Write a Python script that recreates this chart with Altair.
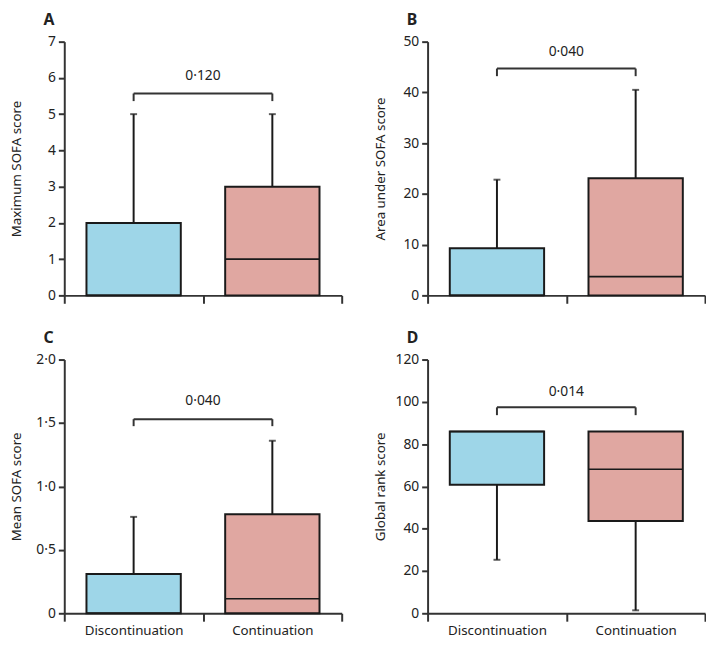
import altair as alt
import pandas as pd

groups = ["Discontinuation", "Continuation"]
colors = ["#9ed6e8", "#e0a7a1"]

panel_letters = ["A", "B", "C", "D"]
y_titles = ["Maximum SOFA score", "Area under SOFA score", "Mean SOFA score", "Global rank score"]
y_max = [7, 50, 2.0, 120]
y_ticks = [[0, 1, 2, 3, 4, 5, 6, 7],
           [0, 10, 20, 30, 40, 50],
           [0, 0.5, 1.0, 1.5, 2.0],
           [0, 20, 40, 60, 80, 100, 120]]

# box statistics per panel, ordered [Discontinuation, Continuation]
w_min = [[0, 0], [0, 0], [0, 0], [25.3, 1.4]]
q1 = [[0, 0], [0, 0], [0, 0], [60.8, 43.6]]
median = [[0, 1], [0, 3.7], [0, 0.115], [86, 68.1]]
q3 = [[2, 3], [9.3, 23.1], [0.31, 0.78], [86, 86]]
w_max = [[5, 5], [22.8, 40.5], [0.76, 1.36], [86, 86]]

p_values = ["0·120", "0·040", "0·040", "0·014"]
bracket_y = [5.57, 44.7, 1.53, 97.4]
bracket_drop = [5.36, 43.2, 1.475, 93.7]
p_text_y = [6.05, 48, 1.67, 104.7]

W, H = 281, 257
AX = "#333333"
INK = "#1a1a1a"
FONT = "Noto Sans"


def make_panel(i, show_labels):
    df = pd.DataFrame({
        "group": groups,
        "min": w_min[i], "q1": q1[i], "median": median[i],
        "q3": q3[i], "max": w_max[i],
        "by": [bracket_y[i]] * 2, "bd": [bracket_drop[i]] * 2,
    })
    bdf = pd.DataFrame({"g1": [groups[0]], "g2": [groups[1]],
                        "by": [bracket_y[i]], "ty": [p_text_y[i]],
                        "p": [p_values[i]]})

    xscale = alt.Scale(domain=groups, paddingInner=0, paddingOuter=0)
    xaxis = alt.Axis(title=None, tickBand="extent", labels=show_labels,
                     labelFontSize=13.5, labelPadding=3, tickSize=8,
                     domainColor=AX, tickColor=AX, domainWidth=2, tickWidth=2,
                     labelColor="#222222", labelAngle=0, labelFont=FONT)
    yscale = alt.Scale(domain=[0, y_max[i]], nice=False, zero=True)
    yaxis_kw = dict(title=y_titles[i], values=y_ticks[i], grid=False, tickSize=6,
                    domainColor=AX, tickColor=AX, domainWidth=2, tickWidth=2,
                    labelFontSize=14, labelColor="#222222", labelFont=FONT,
                    titleFontSize=13.5, titleFontWeight="normal", titleColor="#222222",
                    titleFont=FONT, titleX=-41, labelPadding=3)
    if i == 2:
        yaxis_kw["labelExpr"] = "datum.value == 0 ? '0' : replace(format(datum.value, '.1f'), '.', '·')"
    yaxis = alt.Axis(**yaxis_kw)

    x = alt.X("group:N", scale=xscale, axis=xaxis)

    def Y(field):
        return alt.Y(field, type="quantitative", scale=yscale, axis=yaxis)

    base = alt.Chart(df)
    whisk_hi = base.mark_rule(color=INK, strokeWidth=2).encode(x=x, y=Y("q3"), y2="max")
    whisk_lo = base.mark_rule(color=INK, strokeWidth=2).encode(x=x, y=Y("q1"), y2="min")
    box = base.mark_bar(width=alt.RelativeBandSize(0.68), stroke=INK, strokeWidth=2).encode(
        x=x, y=Y("q1"), y2="q3",
        fill=alt.Fill("group:N", scale=alt.Scale(domain=groups, range=colors), legend=None))
    med = base.mark_bar(width=alt.RelativeBandSize(0.68), fillOpacity=0, stroke=INK,
                        strokeWidth=1.6).encode(x=x, y=Y("median"), y2="median")
    cap_hi = base.transform_filter("datum.max > datum.q3").mark_tick(
        orient="horizontal", size=7, thickness=2, color=INK).encode(x=x, y=Y("max"))
    cap_lo = base.transform_filter("datum.min < datum.q1").mark_tick(
        orient="horizontal", size=7, thickness=2, color=INK).encode(x=x, y=Y("min"))
    drops = base.mark_rule(color=AX, strokeWidth=2).encode(x=x, y=Y("by"), y2="bd")
    bracket = alt.Chart(bdf).mark_rule(color=AX, strokeWidth=2).encode(
        x=alt.X("g1:N", scale=xscale, axis=xaxis, bandPosition=0.5),
        x2=alt.X2("g2", bandPosition=0.5),
        y=Y("by"))
    ptext = alt.Chart(bdf).mark_text(fontSize=14, font=FONT, color="#222222",
                                     baseline="middle").encode(
        x=alt.X("g2:N", scale=xscale, axis=xaxis, bandPosition=0),
        y=Y("ty"), text="p:N")

    return alt.layer(whisk_hi, whisk_lo, box, med, cap_hi, cap_lo, drops, bracket, ptext).properties(
        width=W, height=H,
        title=alt.TitleParams(text=panel_letters[i], anchor="start", frame="group",
                              dx=-21, fontSize=16, fontWeight="bold", color="#222222",
                              font=FONT, offset=7))


row1 = alt.hconcat(make_panel(0, False), make_panel(1, False), spacing=31)
row2 = alt.hconcat(make_panel(2, True), make_panel(3, True), spacing=31)
chart = alt.vconcat(row1, row2, spacing=26).properties(
    padding={"left": 2, "top": 0, "right": 0, "bottom": 0}).configure_view(stroke=None)

chart.save("out.html", embed_options={"renderer": "svg", "actions": False})
